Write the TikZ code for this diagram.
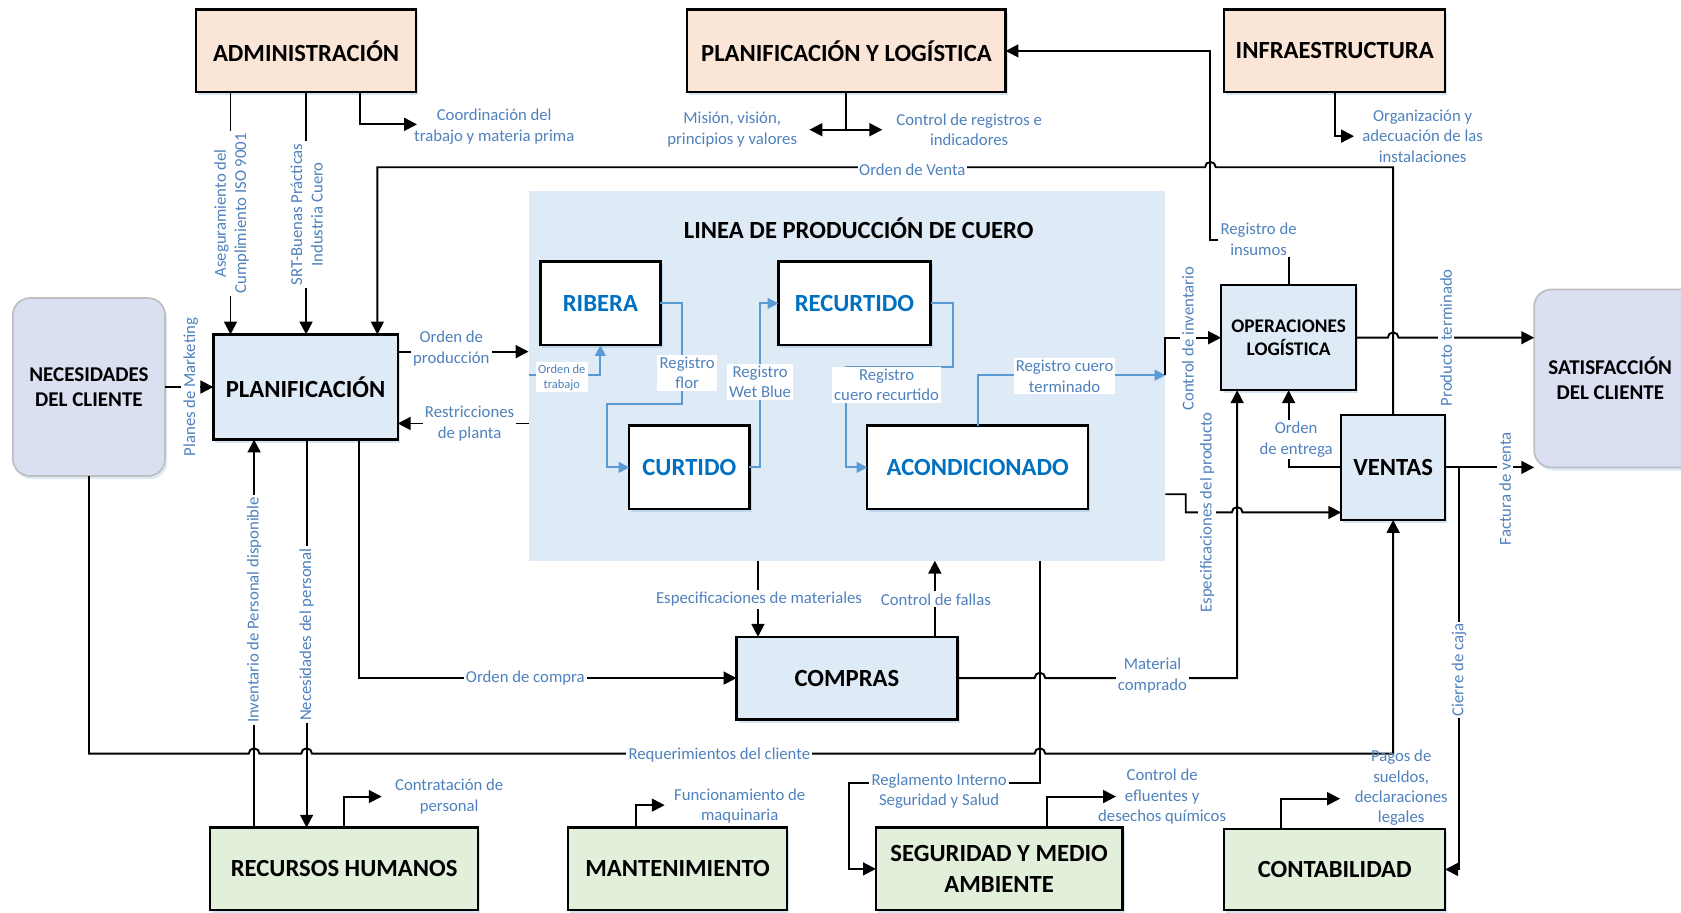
\documentclass[tikz,border=0pt]{standalone}
\usepackage{fontspec}
\setmainfont{Carlito}
\usepackage{tikz}
\usetikzlibrary{positioning,calc,shadows}
\usetikzlibrary{arrows.meta}
\definecolor{durazno}{RGB}{251,229,214}
\definecolor{celeste}{RGB}{222,235,247}
\definecolor{lavanda}{RGB}{218,224,242}
\definecolor{verdecito}{RGB}{226,239,218}
\definecolor{etqazul}{RGB}{79,129,189}
\definecolor{lineazul}{RGB}{91,155,213}
\definecolor{tituloazul}{RGB}{0,112,192}

\begin{document}
\begin{tikzpicture}[x=0.5pt, y=-0.5pt,
    caja/.style={draw, line width=1.1pt, outer sep=0pt, inner sep=2pt, align=center,
        font=\fontsize{11.5}{14}\selectfont\bfseries,
        drop shadow={shadow xshift=1pt, shadow yshift=-1.5pt, opacity=0.25, fill=lineazul}},
    proc/.style={caja, fill=white, text=tituloazul},
    nube/.style={draw=black!25, line width=0.8pt, fill=lavanda, rounded corners=8pt, outer sep=0pt,
        align=center, font=\fontsize{9.8}{11.5}\selectfont\bfseries,
        drop shadow={shadow xshift=1pt, shadow yshift=-1.5pt, opacity=0.2, fill=lineazul}},
    etq/.style={font=\fontsize{7.8}{9.5}\selectfont, text=etqazul, align=center, inner sep=1pt},
    etqb/.style={etq, fill=white},
    flecha/.style={draw, line width=0.9pt, -{Triangle[length=6pt,width=6pt]}},
    linea/.style={draw, line width=0.9pt},
    azul/.style={draw=lineazul, line width=0.9pt, -{Triangle[length=5pt,width=5pt]}},
    ]
    \useasboundingbox (0,0) rectangle (1568,851);
    \fill[white] (0,0) rectangle (1568,851);
    \clip (0,0) rectangle (1568,851);

    \node[caja, fill=durazno, minimum width=102.5pt, minimum height=38.5pt] (admin) at (285.5,47.5) {ADMINISTRACIÓN};
    \node[caja, fill=durazno, minimum width=148.5pt, minimum height=38.5pt] (planlog) at (789.5,47.5) {PLANIFICACIÓN Y LOGÍSTICA};
    \node[caja, fill=durazno, minimum width=103pt, minimum height=38.5pt] (infra) at (1245,47.5) {INFRAESTRUCTURA};
    \node[nube, minimum width=71pt, minimum height=83pt] (nec) at (83,361) {NECESIDADES\\DEL CLIENTE};
    \node[caja, fill=celeste, minimum width=86pt, minimum height=49pt] (plan) at (285,361) {PLANIFICACIÓN};
    \node[fill=celeste, minimum width=297pt, minimum height=172.5pt, outer sep=0pt] (prod) at (790,350.5) {};
    \node[font=\fontsize{11.5}{14}\selectfont\bfseries] (lineatit) at (801,213) {LINEA DE PRODUCCIÓN DE CUERO};
    \node[proc, minimum width=56pt, minimum height=39pt] (ribera) at (560,283) {RIBERA};
    \node[proc, minimum width=56pt, minimum height=39pt] (curtido) at (643,436) {CURTIDO};
    \node[proc, minimum width=71pt, minimum height=39pt] (recurtido) at (797,283) {RECURTIDO};
    \node[proc, minimum width=103pt, minimum height=39pt] (acond) at (912,436) {ACONDICIONADO};
    \node[caja, fill=celeste, minimum width=63pt, minimum height=49pt, font=\fontsize{9}{10.5}\selectfont\bfseries] (oper) at (1202,315) {OPERACIONES\\LOGÍSTICA};
    \node[caja, fill=celeste, minimum width=48.5pt, minimum height=49pt] (ventas) at (1299.5,436) {VENTAS};
    \node[nube, minimum width=84.5pt, minimum height=83pt] (satis) at (1515.5,353) {};
    \node[font=\fontsize{9.8}{11.5}\selectfont\bfseries, align=center] (satistxt) at (1502,353) {SATISFACCIÓN\\DEL CLIENTE};
    \node[caja, fill=celeste, minimum width=103pt, minimum height=38.5pt] (compras) at (790,632.5) {COMPRAS};
    \node[caja, fill=verdecito, minimum width=125pt, minimum height=38.5pt] (rrhh) at (321,810.5) {RECURSOS HUMANOS};
    \node[caja, fill=verdecito, minimum width=102pt, minimum height=38.5pt] (mant) at (632,810.5) {MANTENIMIENTO};
    \node[caja, fill=verdecito, minimum width=115pt, minimum height=38.5pt] (seg) at (932,810.5) {SEGURIDAD Y MEDIO\\AMBIENTE};
    \node[caja, fill=verdecito, minimum width=103pt, minimum height=38pt] (contab) at (1245,811) {CONTABILIDAD};

    \draw[flecha] (admin.south -| 215,0) -- (plan.north -| 215,0);
    \draw[flecha] (admin.south) -- (admin.south |- plan.north);
    \draw[flecha] (admin.south -| 336,0) |- (389,116);
    \draw[flecha] (nec.east) -- (plan.west);
    \draw[flecha] (ventas.north) -- (1299.5,156) -- (1134,156) arc[start angle=0, end angle=180, radius=2.5pt] -- (352,156) -- (plan.north -| 352,0);
    \draw[linea] (planlog.south) -- (789.5,121);
    \draw[{Triangle[length=6pt,width=6pt]}-{Triangle[length=6pt,width=6pt]}, line width=0.9pt] (755,121) -- (823,121);
    \draw[flecha] (infra.south) |- (1263,127);
    \draw[flecha] (oper.north) -- (1202,224) -- (1129,224) -- (1129,47.5) -- (planlog.east);
    \draw[flecha] (plan.east |- 0,328) -- (prod.west |- 0,328);
    \draw[flecha] (prod.west |- 0,395) -- (plan.east |- 0,395);
    \draw[azul] (prod.west |- 0,350) -| (ribera.south);
    \draw[azul] (ribera.east) -- (636,283) -- (636,377) -- (566,377) |- (curtido.west);
    \draw[azul] (curtido.east) -- (709,436) |- (recurtido.west);
    \draw[azul] (recurtido.east) -- (889,283) -- (889,342) -- (789,342) |- (acond.west);
    \draw[azul] (acond.north) |- (prod.east |- 0,350);
    \draw[flecha] (prod.east |- 0,350) -- (1087,315) -- (oper.west);
    \draw[flecha] (prod.east |- 0,461) -- (1106,461) -- (1106,478) -- (1149,478) arc[start angle=180, end angle=0, radius=2.5pt] -- (ventas.west |- 0,478);
    \draw[flecha] (compras.east) -- (965,632.5) arc[start angle=180, end angle=0, radius=2.5pt] -- (1154,632.5) -- (oper.south -| 1154,0);
    \draw[flecha] (ventas.west) -- (1202,436) -- (oper.south);
    \draw[flecha] (oper.east) -- (1294.5,315) arc[start angle=180, end angle=0, radius=2.5pt] -- (satis.west |- oper.east);
    \draw[flecha] (ventas.east) -- (satis.west |- ventas.east);
    \draw[flecha] (ventas.east -| 1361,0) -- (1361,811) -- (contab.east);
    \draw[flecha] (contab.north -| 1195,0) |- (1250,745);
    \draw[flecha] (seg.north -| 977,0) |- (1041,743);
    \draw[flecha] (mant.north -| 593,0) |- (620,751);
    \draw[flecha] (rrhh.north) |- (356,743);
    \draw[flecha] (prod.south -| 970,0) -- (970,730) -- (792,730) |- (seg.west);
    \draw[flecha] (prod.south -| 707,0) -- (compras.north -| 707,0);
    \draw[flecha] (compras.north -| 872,0) -- (prod.south -| 872,0);
    \draw[flecha] (plan.south -| 335,0) |- (compras.west);
    \draw[flecha] (rrhh.north -| 237,0) -- (plan.south -| 237,0);
    \draw[flecha] (plan.south -| 286,0) -- (rrhh.north -| 286,0);
    \draw[flecha] (nec.south) -- (83,703) -- (232,703) arc[start angle=180, end angle=0, radius=2.5pt] -- (281,703) arc[start angle=180, end angle=0, radius=2.5pt] -- (965,703) arc[start angle=180, end angle=0, radius=2.5pt] -- (1299.5,703) -- (ventas.south);

    \node[etqb, rotate=90] (asegura) at (216,199) {Aseguramiento del\\Cumplimiento ISO 9001};
    \node[etqb, rotate=90] (srt) at (286,200) {SRT-Buenas Prácticas\\Industria Cuero};
    \node[etq] (coord) at (461,118) {Coordinación del\\trabajo y materia prima};
    \node[etqb, rotate=90] (marketing) at (178,361) {Planes de Marketing};
    \node[etqb, inner sep=0.5pt] (ordenventa) at (851,158) {Orden de Venta};
    \node[etq] (mision) at (683,121) {Misión, visión,\\principios y valores};
    \node[etq] (registros) at (904,121) {Control de registros e\\indicadores};
    \node[etq] (organiza) at (1327,127) {Organización y\\adecuación de las\\instalaciones};
    \node[etqb] (insumos) at (1174,223) {Registro de\\insumos};
    \node[etqb] (ordenprod) at (421,325) {Orden de\\producción};
    \node[etqb] (restric) at (438,395) {Restricciones\\de planta};
    \node[etqb, font=\fontsize{5.8}{7}\selectfont] (ordentrab) at (524,352) {Orden de\\trabajo};
    \node[etqb] (flor) at (641,348) {Registro\\flor};
    \node[etqb] (wetblue) at (709,356) {Registro\\Wet Blue};
    \node[etqb] (recurt) at (827,359) {Registro\\cuero recurtido};
    \node[etqb] (terminado) at (993,351) {Registro cuero\\terminado};
    \node[etqb, rotate=90] (inventario) at (1108,316) {Control de inventario};
    \node[etqb, rotate=90] (especprod) at (1126,478) {Especificaciones del producto};
    \node[etqb] (material) at (1075,630) {Material\\comprado};
    \node[etqb] (entrega) at (1209,410) {Orden\\de entrega};
    \node[etqb, rotate=90] (producto) at (1349,315) {Producto terminado};
    \node[etqb, rotate=90] (factura) at (1404,456) {Factura de venta};
    \node[etqb, rotate=90] (cierre) at (1361,625) {Cierre de caja};
    \node[etq] (pagos) at (1307,735) {Pagos de\\sueldos,\\declaraciones\\legales};
    \node[etq] (efluentes) at (1084,743) {Control de\\efluentes y\\desechos químicos};
    \node[etq] (funciona) at (690,752) {Funcionamiento de\\maquinaria};
    \node[etq] (contrata) at (419,743) {Contratación de\\personal};
    \node[etqb] (reglamento) at (876,738) {Reglamento Interno\\Seguridad y Salud};
    \node[etqb] (especmat) at (708,559) {Especificaciones de materiales};
    \node[etqb] (fallas) at (873,559) {Control de fallas};
    \node[etqb] (ordencompra) at (490,632) {Orden de compra};
    \node[etqb, rotate=90] (invpersonal) at (237,569) {Inventario de Personal disponible};
    \node[etqb, rotate=90] (necpersonal) at (286,592) {Necesidades del personal};
    \node[etqb] (requer) at (671,704) {Requerimientos del cliente};
\end{tikzpicture}
\end{document}
